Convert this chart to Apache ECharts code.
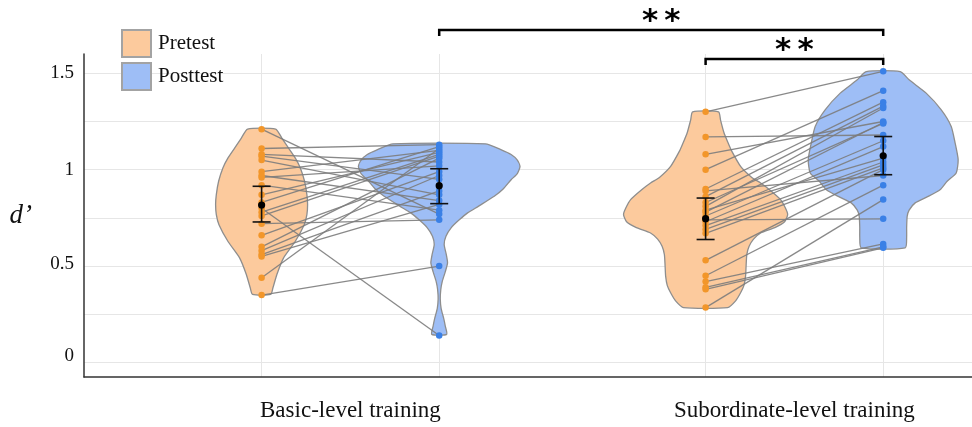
<!DOCTYPE html>
<html><head><meta charset="utf-8">
<script src="https://cdn.jsdelivr.net/npm/echarts@6/dist/echarts.min.js"></script>
<style>html,body{margin:0;padding:0;background:#fff}#c{width:972px;height:427px}</style>
</head><body><div id="c"></div>
<script>
// ---- data ----
const groupNames = ['Basic-level training', 'Subordinate-level training'];
const groupCenters = [1.5, 4];
const prePositions = [1, 3.5];
const postPositions = [2, 4.5];
const yTicks = [0, 0.25, 0.5, 0.75, 1, 1.25, 1.5];
const yLabels = [0, 0.5, 1, 1.5];

// paired participants (index i = same participant)
const basicPre  = [1.21, 1.11, 1.08, 1.07, 1.05, 0.99, 0.97, 0.96, 0.92, 0.87, 0.83, 0.80, 0.78, 0.76, 0.72, 0.66, 0.60, 0.58, 0.56, 0.55, 0.44, 0.35];
const basicPost = [0.77, 1.13, 1.04, 0.95, 0.87, 1.10, 0.84, 1.02, 0.79, 1.09, 1.12, 0.14, 1.08, 1.07, 0.74, 0.99, 1.06, 0.97, 0.89, 0.82, 1.11, 0.50];
const subPre    = [1.30, 1.17, 1.08, 1.00, 0.90, 0.89, 0.86, 0.83, 0.81, 0.79, 0.78, 0.76, 0.74, 0.73, 0.71, 0.69, 0.67, 0.53, 0.45, 0.42, 0.39, 0.38, 0.285];
const subPost   = [1.51, 1.18, 1.25, 1.41, 1.35, 0.97, 1.33, 1.24, 1.32, 1.06, 1.245, 1.15, 0.745, 1.12, 1.04, 1.025, 1.01, 1.00, 0.92, 0.615, 0.60, 0.595, 0.845];

// means and error bars [basic, subordinate]
const preMean  = [0.817, 0.746];
const preLow   = [0.729, 0.638];
const preHigh  = [0.914, 0.853];
const postMean = [0.917, 1.072];
const postLow  = [0.824, 0.974];
const postHigh = [1.005, 1.172];

// violin outlines: [d' value, half-width in x units]
const basicPreViolin = [[1.211,0.079],[1.164,0.114],[1.112,0.152],[1.06,0.19],[1.009,0.218],[0.94,0.242],[0.871,0.255],[0.819,0.259],[0.767,0.255],[0.715,0.240],[0.629,0.19],[0.543,0.124],[0.457,0.086],[0.388,0.064],[0.353,0.051]];
const basicPostViolin = [[1.134,0.26],[1.103,0.35],[1.079,0.405],[1.05,0.44],[1.017,0.455],[0.98,0.44],[0.948,0.405],[0.90,0.36],[0.862,0.31],[0.81,0.22],[0.776,0.16],[0.74,0.113],[0.70,0.068],[0.655,0.038],[0.612,0.028],[0.56,0.04],[0.517,0.047],[0.47,0.034],[0.42,0.017],[0.379,0.009],[0.33,0.006],[0.28,0.011],[0.23,0.025],[0.19,0.034],[0.146,0.042]];
const subPreViolin = [[1.30,0.073],[1.258,0.084],[1.19,0.104],[1.138,0.127],[1.10,0.145],[1.017,0.197],[0.96,0.26],[0.931,0.31],[0.896,0.36],[0.845,0.422],[0.80,0.45],[0.767,0.462],[0.73,0.445],[0.70,0.39],[0.672,0.31],[0.64,0.27],[0.603,0.245],[0.56,0.232],[0.50,0.228],[0.448,0.225],[0.40,0.216],[0.362,0.197],[0.32,0.169],[0.285,0.124]];
const subPostViolin = [[1.509,0.096],[1.466,0.146],[1.397,0.242],[1.31,0.327],[1.224,0.383],[1.138,0.405],[1.052,0.422],[0.983,0.411],[0.94,0.36],[0.896,0.32],[0.86,0.25],[0.828,0.18],[0.79,0.146],[0.758,0.135],[0.70,0.132],[0.65,0.132],[0.595,0.124]];

const sigBrackets = [
  {from: postPositions[0], to: postPositions[1], label: '**'},
  {from: prePositions[1], to: postPositions[1], label: '**'}
];

// ---- styles ----
const serif = '"Liberation Serif", "Times New Roman", serif';
const ORANGE_FILL = '#FCCA9D', BLUE_FILL = '#9EBEF6';
const ORANGE_PT = '#F2962A', BLUE_PT = '#3A80E6', EDGE = '#8e8e8e';

function violin(name, pos, outline, fill) {
  return {
    type: 'custom', name, z: 2, silent: true,
    data: [[pos, outline[0][0]]],
    renderItem(params, api) {
      const pts = outline.map(([v, h]) => api.coord([pos + h, v]))
        .concat(outline.slice().reverse().map(([v, h]) => api.coord([pos - h, v])));
      return {type: 'polygon', shape: {points: pts, smooth: 0.2},
        style: {fill, stroke: EDGE, lineWidth: 1.3}};
    }
  };
}

const pairLines = basicPre.map((v, i) => ({coords: [[prePositions[0], v], [postPositions[0], basicPost[i]]]}))
  .concat(subPre.map((v, i) => ({coords: [[prePositions[1], v], [postPositions[1], subPost[i]]]})));

const errData = [0, 1].map(g => [prePositions[g], preMean[g], preLow[g], preHigh[g]])
  .concat([0, 1].map(g => [postPositions[g], postMean[g], postLow[g], postHigh[g]]));

const chart = echarts.init(document.getElementById('c'));
chart.setOption({
  animation: false,
  backgroundColor: '#fff',
  grid: {left: 84, right: 0, top: 54, bottom: 50, containLabel: false},
  legend: {
    orient: 'vertical', left: 116, top: 24, itemWidth: 29, itemHeight: 27, itemGap: 4,
    selectedMode: false,
    textStyle: {fontFamily: serif, fontSize: 21, color: '#111', padding: [0, 0, 0, 2]},
    data: [
      {name: 'Pretest', icon: 'rect', itemStyle: {color: ORANGE_FILL, borderColor: '#a3a3a3', borderWidth: 2}},
      {name: 'Posttest', icon: 'rect', itemStyle: {color: BLUE_FILL, borderColor: '#a3a3a3', borderWidth: 2}}
    ]
  },
  xAxis: {
    type: 'value', min: 0, max: 5,
    axisLine: {show: true, onZero: false, lineStyle: {color: '#333', width: 1.5}},
    axisTick: {show: false, customValues: prePositions.concat(postPositions)},
    splitLine: {show: true, lineStyle: {color: '#e6e6e6', width: 1}},
    axisLabel: {
      customValues: groupCenters,
      formatter: v => {
        let best = 0;
        groupCenters.forEach((c, i) => { if (Math.abs(c - v) < Math.abs(groupCenters[best] - v)) best = i; });
        return groupNames[best];
      },
      fontFamily: serif, fontSize: 23, color: '#111', margin: 22
    }
  },
  yAxis: {
    type: 'value', min: -0.075, max: 1.6,
    name: 'd\u2019', nameLocation: 'middle', nameRotate: 0, nameGap: 52,
    nameTextStyle: {fontFamily: serif, fontStyle: 'italic', fontSize: 27, color: '#111'},
    axisLine: {show: true, onZero: false, lineStyle: {color: '#333', width: 1.5}},
    axisTick: {show: false, customValues: yTicks},
    splitLine: {show: true, lineStyle: {color: '#e6e6e6', width: 1}},
    axisLabel: {customValues: yLabels,
      formatter: v => v === 0 ? '{z|0}' : (v === 0.5 ? '{h|0.5}' : String(v)),
      rich: {
        z: {fontFamily: serif, fontSize: 19, color: '#111', padding: [0, 0, 14, 0]},
        h: {fontFamily: serif, fontSize: 19, color: '#111', padding: [0, 0, 5, 0]}
      },
      fontFamily: serif, fontSize: 19, color: '#111', margin: 10}
  },
  series: [
    violin('Pretest', prePositions[0], basicPreViolin, ORANGE_FILL),
    violin('Posttest', postPositions[0], basicPostViolin, BLUE_FILL),
    violin('Pretest', prePositions[1], subPreViolin, ORANGE_FILL),
    violin('Posttest', postPositions[1], subPostViolin, BLUE_FILL),
    {type: 'lines', coordinateSystem: 'cartesian2d', z: 3, silent: true,
      lineStyle: {color: '#7c7c7c', width: 1.3, opacity: 0.9, curveness: 0}, data: pairLines},
    {type: 'scatter', z: 4, silent: true, symbolSize: 6.5, itemStyle: {color: ORANGE_PT, opacity: 1},
      data: basicPre.map(v => [prePositions[0], v]).concat(subPre.map(v => [prePositions[1], v]))},
    {type: 'scatter', z: 4, silent: true, symbolSize: 6.5, itemStyle: {color: BLUE_PT, opacity: 1},
      data: basicPost.map(v => [postPositions[0], v]).concat(subPost.map(v => [postPositions[1], v]))},
    {type: 'custom', z: 5, silent: true, data: errData, encode: {x: 0, y: [1, 2, 3]},
      renderItem(params, api) {
        const x = api.value(0);
        const m = api.coord([x, api.value(1)]);
        const lo = api.coord([x, api.value(2)]);
        const hi = api.coord([x, api.value(3)]);
        const cw = 9, st = {stroke: '#111', lineWidth: 1.6};
        return {type: 'group', children: [
          {type: 'line', shape: {x1: lo[0], y1: lo[1], x2: hi[0], y2: hi[1]}, style: st},
          {type: 'line', shape: {x1: lo[0] - cw, y1: lo[1], x2: lo[0] + cw, y2: lo[1]}, style: st},
          {type: 'line', shape: {x1: hi[0] - cw, y1: hi[1], x2: hi[0] + cw, y2: hi[1]}, style: st},
          {type: 'circle', shape: {cx: m[0], cy: m[1], r: 3.6}, style: {fill: '#000'}}
        ]};
      }}
  ]
});

// significance brackets
const px = x => chart.convertToPixel({gridIndex: 0}, [x, 0])[0];
const bracketY = [30, 59];
const graphics = [];
sigBrackets.forEach((b, i) => {
  const x1 = px(b.from), x2 = px(b.to), y = bracketY[i];
  graphics.push({type: 'polyline', z: 10, shape: {points: [[x1, y + 6], [x1, y], [x2, y], [x2, y + 6]]},
    style: {stroke: '#000', lineWidth: 2.5, fill: null}});
  graphics.push({type: 'text', z: 10, x: (x1 + x2) / 2, y: y - 8,
    style: {text: b.label.split('').join('\u2009'), font: 'bold 31px "DejaVu Sans", sans-serif', fill: '#000',
      textAlign: 'center', textVerticalAlign: 'middle'}});
});
chart.setOption({graphic: graphics});
</script>
</body></html>
